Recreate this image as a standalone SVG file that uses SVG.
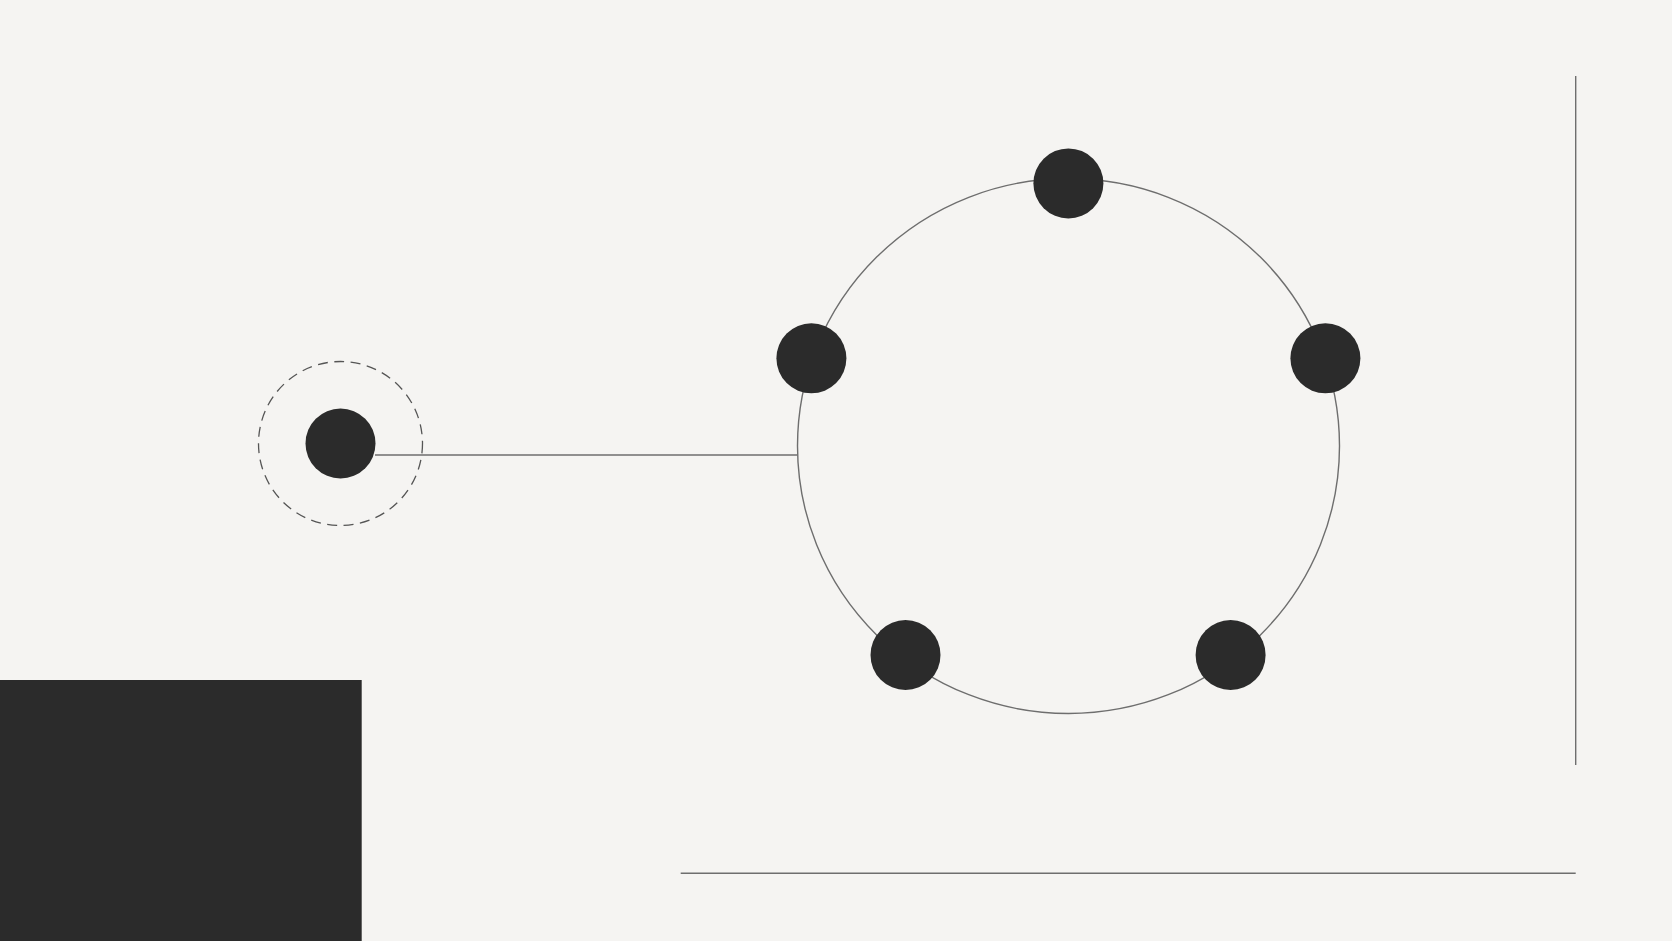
<svg xmlns="http://www.w3.org/2000/svg" width="1672" height="941" viewBox="0 0 1672 941">
  <style>
    .dot { fill: #2b2b2b; }
    .thin { fill: none; stroke: #6e6e6e; stroke-width: 1.4; }
    .dash { fill: none; stroke: #555; stroke-width: 1.3; stroke-dasharray: 10 6.5; }
  </style>
  <rect x="0" y="0" width="1672" height="941" fill="#f5f4f2"/>
  <g id="connectors">
    <ellipse class="thin" cx="1068.5" cy="446" rx="271" ry="267.5"/>
    <line class="thin" x1="375" y1="455" x2="797.5" y2="455"/>
  </g>
  <g id="frame">
    <line class="thin" x1="1575.7" y1="76" x2="1575.7" y2="765"/>
    <line class="thin" x1="680.7" y1="873.3" x2="1575.7" y2="873.3"/>
    <rect id="block" x="0" y="680" width="361.7" height="261" fill="#2b2b2b"/>
  </g>
  <g id="source">
    <circle class="dash" cx="340.5" cy="443.5" r="82"/>
    <circle class="dot" cx="340.5" cy="443.5" r="35"/>
  </g>
  <g id="node-top"><circle class="dot" cx="1068.4" cy="183.4" r="35"/></g>
  <g id="node-left"><circle class="dot" cx="811.4" cy="358.3" r="35"/></g>
  <g id="node-right"><circle class="dot" cx="1325.4" cy="358.3" r="35"/></g>
  <g id="node-bottom-left"><circle class="dot" cx="905.5" cy="655" r="35"/></g>
  <g id="node-bottom-right"><circle class="dot" cx="1230.6" cy="655" r="35"/></g>
</svg>
